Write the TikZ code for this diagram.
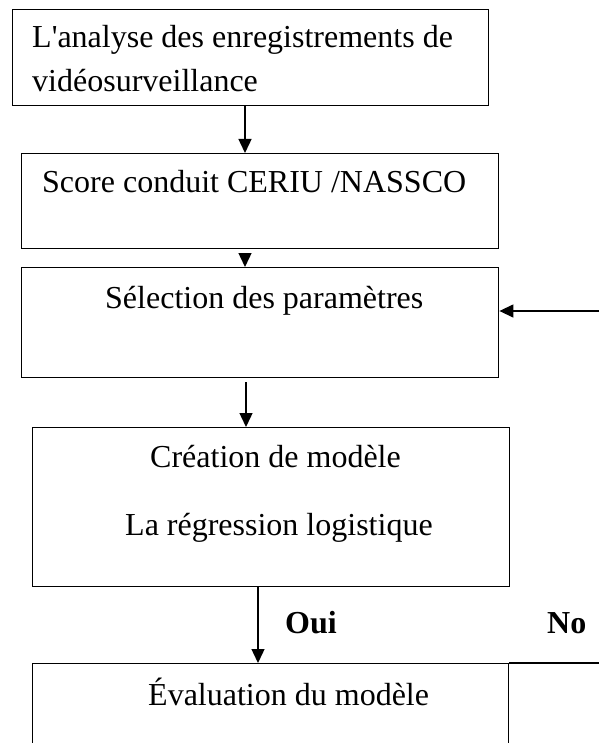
\documentclass[tikz,border=0pt]{standalone}
\usepackage{fontspec}
\setmainfont{Liberation Serif}
\usetikzlibrary{arrows.meta}
\begin{document}
\begin{tikzpicture}[x=1pt,y=-1pt,
  box/.style={draw,line width=1.4pt,anchor=north west,inner sep=0pt},
  lbl/.style={anchor=base west,inner sep=0pt,font=\fontsize{32}{32}\selectfont},
  arr/.style={line width=1.4pt,-{Triangle[width=13pt,length=14pt]}},
  ln/.style={line width=1.4pt}]
\useasboundingbox (0,0) rectangle (599,743);
\clip (0,0) rectangle (599,743);

% process boxes
\node[box,minimum width=476pt,minimum height=96pt] (b1) at (12,9) {};
\node[box,minimum width=477pt,minimum height=95pt] (b2) at (21,153) {};
\node[box,minimum width=477pt,minimum height=110pt] (b3) at (21,267) {};
\node[box,minimum width=477pt,minimum height=159pt] (b4) at (32,427) {};
\node[box,minimum width=476pt,minimum height=120pt] (b5) at (32,663) {};

% texts
\node[lbl] (t1a) at (32,48) {L\textquotesingle analyse des enregistrements de};
\node[lbl] (t1b) at (32,92) {vidéosurveillance};
\node[lbl] (t2) at (42,193) {Score conduit CERIU /NASSCO};
\node[lbl] (t3) at (105,308) {Sélection des paramètres};
\node[lbl] (t4a) at (150,467) {Création de modèle};
\node[lbl] (t4b) at (125,535) {La régression logistique};
\node[lbl] (t5) at (148,705) {Évaluation du modèle};
\node[lbl,font=\fontsize{32}{32}\selectfont\bfseries] (oui) at (285,633) {Oui};
\node[lbl,font=\fontsize{32}{32}\selectfont\bfseries] (no) at (547,633) {No};

% connector x positions
\coordinate (x1) at (245,0);
\coordinate (x3) at (246,0);
\coordinate (x4) at (258,0);
\coordinate (rin) at (599,311);
\coordinate (rend) at (599,663);

\draw[arr] (b1.south -| x1) -- (b2.north -| x1);
\draw[arr,shorten <=5pt] (b2.south -| x1) -- (b3.north -| x1);
\draw[arr,shorten <=4pt] (b3.south -| x3) -- (b4.north -| x3);
\draw[arr] (b4.south -| x4) -- (b5.north -| x4);
\draw[arr] (rin) -- (rin -| b3.east);
\draw[ln] (b5.north east) -- (rend);
\end{tikzpicture}
\end{document}
